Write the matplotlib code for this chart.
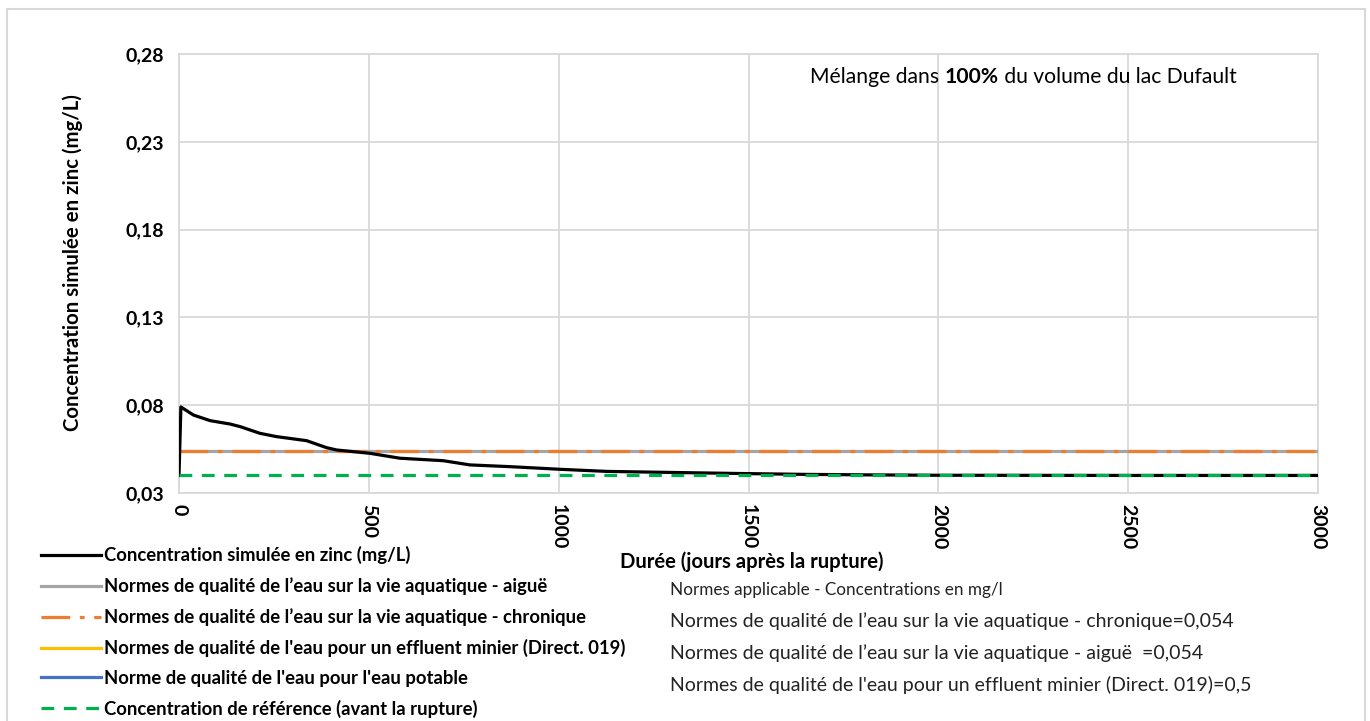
import matplotlib as mpl
import matplotlib.pyplot as plt
from matplotlib.patches import Rectangle
from matplotlib.ticker import FuncFormatter

mpl.rcParams['font.family'] = ['Lato', 'DejaVu Sans']

# simulated zinc concentration (mg/L) vs days after rupture
days = [0, 5, 38, 82, 134, 161, 213, 257, 336, 389, 415, 503, 582, 696, 766,
        872, 960, 1003, 1127, 1300, 1478, 1650, 1829, 2000, 2500, 3000]
conc = [0.040, 0.079, 0.0744, 0.0712, 0.0693, 0.0678, 0.064, 0.0621, 0.0598,
        0.0558, 0.0545, 0.0526, 0.0498, 0.0484, 0.046, 0.045, 0.0440, 0.0435,
        0.0423, 0.0417, 0.0411, 0.0406, 0.0403, 0.0401, 0.0400, 0.0400]

x_range = [0, 3000]
aigue = 0.054
chronique = 0.054
effluent = 0.5
potable = 5.0
reference = 0.040

yticks = [0.03, 0.08, 0.13, 0.18, 0.23, 0.28]
xticks = [0, 500, 1000, 1500, 2000, 2500, 3000]

labels = [
    'Concentration simulée en zinc (mg/L)',
    'Normes de qualité de l’eau sur la vie aquatique - aiguë',
    'Normes de qualité de l’eau sur la vie aquatique - chronique',
    "Normes de qualité de l'eau pour un effluent minier (Direct. 019)",
    "Norme de qualité de l'eau pour l'eau potable",
    'Concentration de référence (avant la rupture)',
]
notes = [
    'Normes applicable - Concentrations en mg/l',
    'Normes de qualité de l’eau sur la vie aquatique - chronique=0,054',
    'Normes de qualité de l’eau sur la vie aquatique - aiguë  =0,054',
    "Normes de qualité de l'eau pour un effluent minier (Direct. 019)=0,5",
]

fig = plt.figure(figsize=(13.7, 7.21), dpi=100)
fig.patches.append(Rectangle((7 / 1370, -0.01), 1358 / 1370, 1 - 9 / 721 + 0.01,
                             transform=fig.transFigure, fill=False,
                             edgecolor='#D9D9D9', linewidth=1.5))
ax = fig.add_axes([179 / 1370, 1 - 493 / 721, (1318 - 179) / 1370, (493 - 54) / 721])

ax.plot(days, conc, color='black', linewidth=2.3, label=labels[0], zorder=5)
ax.plot(x_range, [aigue] * 2, color='#A5A5A5', linewidth=2.3, label=labels[1], zorder=3)
ax.plot(x_range, [chronique] * 2, color='#ED7D31', linewidth=2.3,
        dashes=[9, 3, 1.5, 3], label=labels[2], zorder=4)
ax.plot(x_range, [effluent] * 2, color='#FFC000', linewidth=2.3, label=labels[3])
ax.plot(x_range, [potable] * 2, color='#4472C4', linewidth=2.3, label=labels[4])
ax.plot(x_range, [reference] * 2, color='#00B050', linewidth=2.3,
        dashes=[4, 3], label=labels[5], zorder=6)

ax.set_xlim(0, 3000)
ax.set_ylim(0.03, 0.28)
ax.set_xticks(xticks)
ax.set_yticks(yticks)
ax.yaxis.set_major_formatter(FuncFormatter(lambda v, p: f'{v:.2f}'.replace('.', ',')))
ax.grid(True, color='#D9D9D9', linewidth=1.3)
ax.set_axisbelow(True)
for s in ax.spines.values():
    s.set_color('#D9D9D9')
    s.set_linewidth(1.3)
ax.tick_params(length=0, labelsize=14, pad=8)
for t in ax.get_xticklabels():
    t.set_rotation(270)
    t.set_fontweight('bold')
    t.set_va('top')
for t in ax.get_yticklabels():
    t.set_fontweight('bold')
ax.tick_params(axis='y', pad=11)

ax.set_ylabel('Concentration simulée en zinc (mg/L)', fontsize=14.7, fontweight='bold', labelpad=30)
ax.yaxis.label.set_y(0.526)
fig.text(752 / 1370, 1 - 562 / 721, 'Durée (jours après la rupture)', fontsize=14.6,
         fontweight='bold', ha='center', va='center')

fig.legend(loc='upper left', bbox_to_anchor=(34 / 1370, 1 - 539 / 721), frameon=False,
           prop={'size': 13.3, 'weight': 'bold'}, handlelength=3.2, handletextpad=0.2,
           labelspacing=0.7, borderaxespad=0)

for i, n in enumerate(notes):
    fig.text(670 / 1370, 1 - (590 + 31.5 * i) / 721, n, fontsize=12.3 if i == 0 else 14,
             va='center', ha='left', color='#222222')

# annotation with bold part
fig.canvas.draw()
r = fig.canvas.get_renderer()
parts = [('Mélange dans ', 'normal'), ('100%', 'bold'), (' du volume du lac Dufault', 'normal')]
xpos = 810
for txt, w in parts:
    t = fig.text(xpos / 1370, 1 - 77 / 721, txt, fontsize=15.2, fontweight=w, va='center', ha='left')
    bb = t.get_window_extent(renderer=r)
    xpos += bb.width

fig.savefig('out.png', dpi=100)
